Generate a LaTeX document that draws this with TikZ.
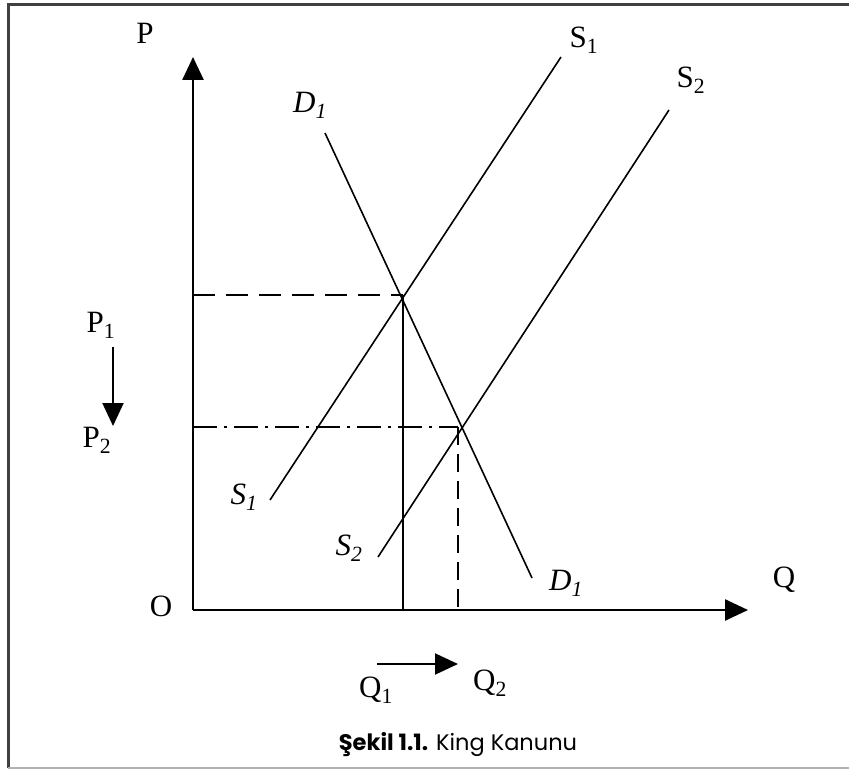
\documentclass[tikz,border=0pt]{standalone}
\usepackage{fontspec}
\setmainfont{Liberation Serif}
\newfontfamily\capfont{Poppins}
\usetikzlibrary{arrows.meta}
\begin{document}
\begin{tikzpicture}[x=1pt,y=-1pt,
  axis/.style={line width=2.6pt,-{Triangle[length=23pt,width=21pt]}},
  curve/.style={line width=1.6pt},
  lbl/.style={font=\fontsize{31}{34}\selectfont,inner sep=0pt},
  ilbl/.style={font=\fontsize{31}{34}\selectfont\itshape,inner sep=0pt},
  dashA/.style={line width=2.2pt,dash pattern=on 22pt off 11pt},
  dashB/.style={line width=2.2pt,dash pattern=on 24pt off 7pt on 3pt off 7pt},
  dashC/.style={line width=2.2pt,dash pattern=on 18pt off 9pt},
  move/.style={line width=2pt,-{Triangle[length=23pt,width=21pt]}}]
\useasboundingbox (0,0) rectangle (849,770);
\fill[white] (0,0) rectangle (849,770);
% frame
\draw[line width=3pt,black!75] (8,768) -- (8,5) -- (849,5);
\draw[line width=2pt,black!30] (8,768) -- (849,768);
% axes
\coordinate (O) at (193,610);
\coordinate (Ptop) at (193,57);
\coordinate (Qend) at (748,610);
\draw[axis] (O) -- (Ptop);
\draw[axis] (O) -- (Qend);
% curves
\coordinate (s1a) at (270,500); \coordinate (s1b) at (561,57);
\coordinate (s2a) at (378,557); \coordinate (s2b) at (669,110);
\coordinate (d1a) at (325,133); \coordinate (d1b) at (532,578);
\draw[curve] (s1a) -- (s1b);
\draw[curve] (s2a) -- (s2b);
\draw[curve] (d1a) -- (d1b);
% equilibria
\coordinate (E1) at (403,295);
\coordinate (E2) at (458,427);
\coordinate (P1y) at (193,295);
\coordinate (P2y) at (193,427);
\coordinate (Q1x) at (403,610);
\coordinate (Q2x) at (458,610);
\draw[dashA] (P1y) -- (E1);
\draw[line width=1.6pt] (E1) -- (Q1x);
\draw[dashB] (P2y) -- (E2);
\draw[dashC] (E2) -- (Q2x);
% labels
\node[lbl] (lP) at (145,33) {P};
\node[lbl] (lS1) at (584,40) {S\textsubscript{1}};
\node[lbl] (lS2) at (691,80) {S\textsubscript{2}};
\node[ilbl] (lD1t) at (310,105) {D\textsubscript{1}};
\node[ilbl] (lS1b) at (244,497) {S\textsubscript{1}};
\node[ilbl] (lS2b) at (349,548) {S\textsubscript{2}};
\node[ilbl] (lD1b) at (566,583) {D\textsubscript{1}};
\node[lbl] (lO) at (161,606) {O};
\node[lbl] (lQ) at (784,580) {Q};
\node[lbl] (lP1) at (101,325) {P\textsubscript{1}};
\node[lbl] (lP2) at (97,440) {P\textsubscript{2}};
\node[lbl] (lQ1) at (376,690) {Q\textsubscript{1}};
\node[lbl] (lQ2) at (490,683) {Q\textsubscript{2}};
\coordinate (pa) at (113,347); \coordinate (pb) at (113,426);
\draw[move] (pa) -- (pb);
\coordinate (qa) at (377,664); \coordinate (qb) at (458,664);
\draw[move] (qa) -- (qb);
\node[font=\capfont\fontsize{22.5}{26}\selectfont,inner sep=0pt] (cap) at (458,745) {\textbf{Şekil 1.1.} King Kanunu};
\end{tikzpicture}
\end{document}
